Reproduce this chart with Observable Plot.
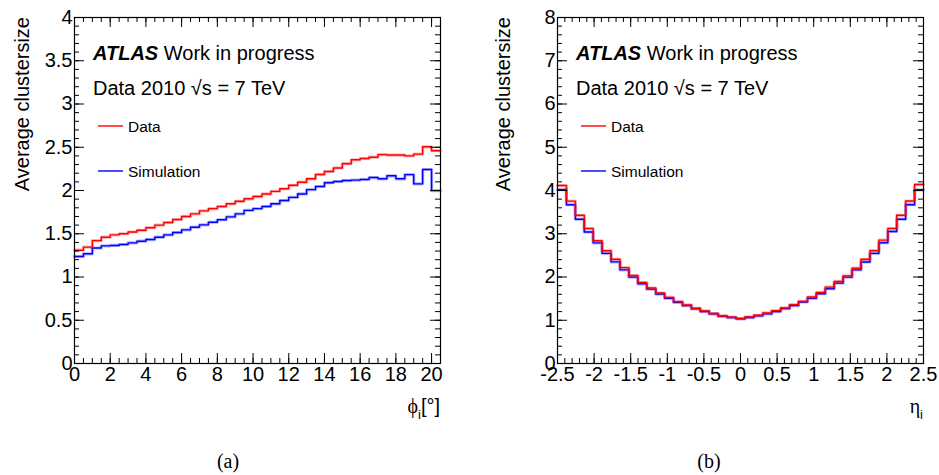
<!DOCTYPE html>
<html><head><meta charset="utf-8">
<script src="https://cdn.jsdelivr.net/npm/d3@7"></script>
<script src="https://cdn.jsdelivr.net/npm/@observablehq/plot@0.6"></script>
<style>
body{margin:0;background:#fff;}
#wrap{display:flex;width:939px;height:475px;background:#fff;}
svg{display:block}
</style></head><body><div id="wrap"></div>
<script>
// ---- Panel (a): average cluster size vs phi_i [deg], 41 bins of 0.5 from 0 to 20.5
const phiRange = [0, 20.5];
const phiBinCount = 41;
const phiData = [1.31,1.345,1.42,1.46,1.487,1.50,1.52,1.54,1.57,1.60,1.63,1.665,1.70,1.73,1.765,1.79,1.815,1.846,1.875,1.904,1.93,1.96,1.99,2.02,2.06,2.096,2.135,2.185,2.22,2.26,2.31,2.355,2.37,2.385,2.415,2.41,2.41,2.40,2.42,2.505,2.46];
const phiSim  = [1.237,1.268,1.335,1.36,1.365,1.376,1.395,1.414,1.433,1.46,1.487,1.514,1.545,1.576,1.603,1.633,1.662,1.695,1.73,1.77,1.79,1.815,1.846,1.884,1.92,1.96,2.01,2.046,2.09,2.104,2.115,2.12,2.127,2.15,2.135,2.17,2.135,2.183,2.077,2.243,1.998];
const phiXTicks = [0,2,4,6,8,10,12,14,16,18,20];
const phiYTicks = [0,0.5,1,1.5,2,2.5,3,3.5,4];

// ---- Panel (b): average cluster size vs eta_i, 41 bins from -2.5 to 2.5
const etaRange = [-2.5, 2.5];
const etaBinCount = 41;
const etaData = [4.115,3.755,3.427,3.12,2.837,2.607,2.41,2.217,2.034,1.873,1.744,1.63,1.53,1.43,1.354,1.277,1.216,1.155,1.10,1.07,1.04,1.078,1.116,1.171,1.223,1.285,1.361,1.437,1.537,1.644,1.767,1.897,2.027,2.203,2.409,2.608,2.853,3.121,3.427,3.756,4.138];
const etaSim  = [4.02,3.67,3.335,3.04,2.79,2.547,2.35,2.165,1.997,1.843,1.72,1.606,1.506,1.414,1.338,1.262,1.20,1.147,1.093,1.063,1.033,1.063,1.101,1.147,1.20,1.269,1.338,1.422,1.506,1.614,1.728,1.858,1.996,2.164,2.348,2.547,2.792,3.052,3.335,3.672,4.016];
const etaXTicks = [-2.5,-2,-1.5,-1,-0.5,0,0.5,1,1.5,2,2.5];
const etaYTicks = [0,1,2,3,4,5,6,7,8];

const seriesNames = ["Data", "Simulation"];
const seriesColors = ["#ff0000", "#0000ff"];

function edgesOf(range, n){ const w=(range[1]-range[0])/n; return d3.range(n+1).map(i=>range[0]+i*w); }
function steps(edges, vals){
  const pts = vals.map((v,i)=>({x:edges[i], y:v}));
  pts.push({x:edges[vals.length], y:vals[vals.length-1]});
  return pts;
}
const fmt = d => String(d);
const FONT = "'Liberation Sans', Arial, Helvetica, sans-serif";
const SERIF = "'Liberation Serif', 'DejaVu Serif', serif";

function panel(o){
  const W=o.width, H=475, ml=o.ml, mr=o.mr, mt=17, mb=112;
  const pw=W-ml-mr, ph=H-mt-mb;
  const edges = edgesOf(o.range, o.n);
  const tY = (vals,len,side)=>Plot.tickY(vals,{y:d=>d,stroke:"black",strokeWidth:1,insetLeft:side==="right"?pw-len:0,insetRight:side==="left"?pw-len:0});
  const tX = (vals,len,side)=>Plot.tickX(vals,{x:d=>d,stroke:"black",strokeWidth:1,insetTop:side==="bottom"?ph-len:0,insetBottom:side==="top"?ph-len:0});
  const svg = Plot.plot({
    width:W, height:H, marginLeft:ml, marginRight:mr, marginTop:mt, marginBottom:mb,
    x:{domain:o.range}, y:{domain:[o.yTicks[0], o.yTicks[o.yTicks.length-1]]},
    style:{fontFamily:FONT, background:"white", color:"black", overflow:"visible"},
    marks:[
      Plot.line(steps(edges,o.sim),{x:"x",y:"y",curve:"step-after",stroke:seriesColors[1],strokeWidth:3.2,strokeOpacity:0.3}),
      Plot.line(steps(edges,o.sim),{x:"x",y:"y",curve:"step-after",stroke:seriesColors[1],strokeWidth:1.4}),
      Plot.line(steps(edges,o.data),{x:"x",y:"y",curve:"step-after",stroke:seriesColors[0],strokeWidth:3.2,strokeOpacity:0.3}),
      Plot.line(steps(edges,o.data),{x:"x",y:"y",curve:"step-after",stroke:seriesColors[0],strokeWidth:1.4}),
      tY(o.yMinor,5,"left"), tY(o.yMinor,5,"right"),
      tY(o.yTicks,10,"left"), tY(o.yTicks,10,"right"),
      tX(o.xMinor,5,"bottom"), tX(o.xMinor,5,"top"),
      tX(o.xTicks,10,"bottom"), tX(o.xTicks,10,"top"),
      Plot.frame({stroke:"black",strokeWidth:1.2}),
      Plot.axisY({ticks:o.yTicks,tickSize:0,tickPadding:2,tickFormat:fmt,fontSize:20,label:null}),
      Plot.axisX({ticks:o.xTicks,tickSize:0,tickPadding:3,tickFormat:fmt,fontSize:20,label:null})
    ]
  });
  const s = d3.select(svg);
  const g = s.append("g").attr("font-family",FONT).attr("fill","black").attr("text-anchor","start");
  // y-axis title
  g.append("text").attr("transform",`translate(${o.yTitleX},${mt}) rotate(-90)`)
    .attr("text-anchor","end").attr("font-size",20).text("Average clustersize");
  // ATLAS label
  const a = g.append("text").attr("x",ml+19).attr("y",60).attr("font-size",20).attr("text-anchor","start");
  a.append("tspan").attr("font-weight","bold").attr("font-style","italic").text("ATLAS");
  a.append("tspan").text(" Work in progress");
  g.append("text").attr("x",ml+19).attr("y",95).attr("font-size",20).attr("text-anchor","start").text("Data 2010 \u221As = 7 TeV");
  // legend
  [126,171].forEach((yy,i)=>{
    g.append("line").attr("x1",ml+24).attr("x2",ml+49).attr("y1",yy).attr("y2",yy)
      .attr("stroke",seriesColors[i]).attr("stroke-width",1.4);
    g.append("text").attr("x",ml+54).attr("y",yy+5.5).attr("font-size",15.5).attr("text-anchor","start").text(seriesNames[i]);
  });
  // x-axis title
  const xt = g.append("text").attr("x",W-mr).attr("y",413).attr("text-anchor","end").attr("font-size",20);
  xt.append("tspan").attr("font-family",SERIF).text(o.xSym);
  xt.append("tspan").attr("font-size",13).attr("dy",6).text("i");
  if(o.xUnit) xt.append("tspan").attr("dy",-6).text(o.xUnit);
  // caption
  g.append("text").attr("x",o.capX).attr("y",468).attr("text-anchor","middle")
    .attr("font-family",SERIF).attr("font-size",20).text(o.caption);
  return svg;
}

const wrap = document.getElementById("wrap");
wrap.appendChild(panel({
  width:470, ml:74, mr:30, range:phiRange, n:phiBinCount, data:phiData, sim:phiSim,
  xTicks:phiXTicks, xMinor:d3.range(0,20.51,0.5), yTicks:phiYTicks, yMinor:d3.range(0,4.001,0.1),
  yTitleX:29, xSym:"\u03D5", xUnit:"[\u00B0]", caption:"(a)", capX:228
}));
wrap.appendChild(panel({
  width:469, ml:87, mr:16, range:etaRange, n:etaBinCount, data:etaData, sim:etaSim,
  xTicks:etaXTicks, xMinor:d3.range(-2.5,2.501,0.1), yTicks:etaYTicks, yMinor:d3.range(0,8.001,0.2),
  yTitleX:40, xSym:"\u03B7", xUnit:null, caption:"(b)", capX:239
}));
</script></body></html>
